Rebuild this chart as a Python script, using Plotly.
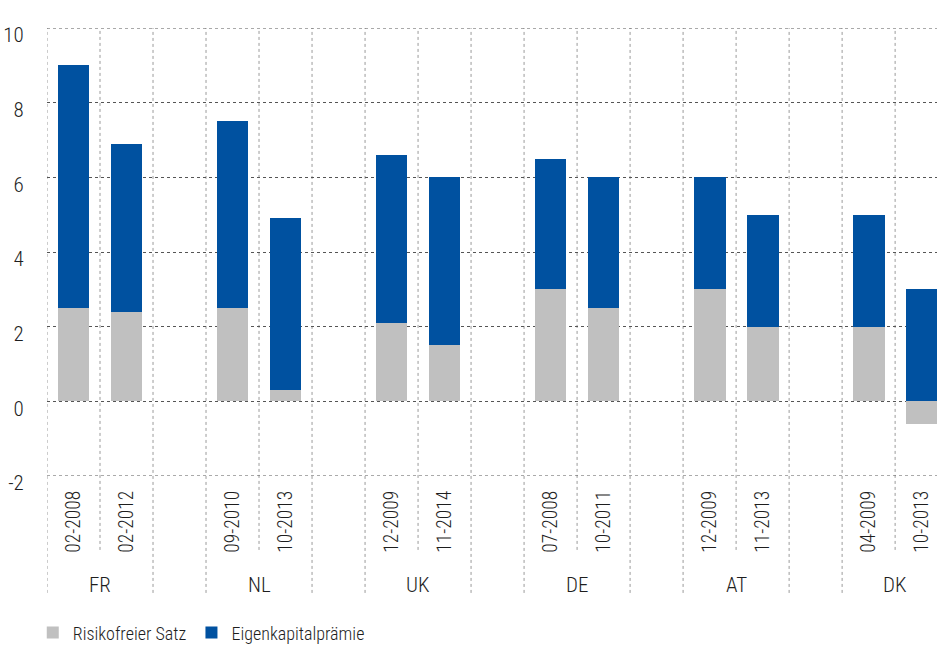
import plotly.graph_objects as go

# Data
countries = ["FR", "NL", "UK", "DE", "AT", "DK"]
dates = [
    ["02-2008", "02-2012"],
    ["09-2010", "10-2013"],
    ["12-2009", "11-2014"],
    ["07-2008", "10-2011"],
    ["12-2009", "11-2013"],
    ["04-2009", "10-2013"],
]
risk_free = [2.5, 2.4, 2.5, 0.3, 2.1, 1.5, 3.0, 2.5, 3.0, 2.0, 2.0, -0.6]
equity_premium = [6.5, 4.5, 5.0, 4.6, 4.5, 4.5, 3.5, 3.5, 3.0, 3.0, 3.0, 3.0]
y_ticks = [-2, 0, 2, 4, 6, 8, 10]
y_tick_text = ["-2", "0", "2", "4", "6", "8", "10"]

FONT = "Roboto Condensed, Fira Sans Condensed, DejaVu Sans Condensed, sans-serif"
GREY = "#c0c0c0"
BLUE = "#0051a0"
TEXT = "#1e1e1e"
GRID = "#555555"

# Each country takes two slots, followed by one empty slot as a spacer
x_pos, x_text = [], []
for g, pair in enumerate(dates):
    for k, d in enumerate(pair):
        x_pos.append(g * 3 + k)
        x_text.append(d)

fig = go.Figure()
fig.add_trace(go.Bar(x=x_pos, y=risk_free, name="Risikofreier Satz",
                     marker=dict(color=GREY, line=dict(width=0)), width=0.6))
fig.add_trace(go.Bar(x=x_pos, y=equity_premium, name="Eigenkapitalprämie",
                     marker=dict(color=BLUE, line=dict(width=0)), width=0.6))

# Vertical separators: long ones around groups, short ones between bars
shapes = []
for g in range(len(countries)):
    start = g * 3 - 0.5
    mid = g * 3 + 0.5
    end = g * 3 + 1.5
    for xv, ybot in ((start, -0.261), (mid, -0.165), (end, -0.261)):
        shapes.append(dict(type="line", xref="x", yref="paper", x0=xv, x1=xv,
                           y0=ybot, y1=1, layer="below",
                           line=dict(color="#9a9a9a", width=1, dash="dot")))
# Grid lines on the upper and lower edge of the value range
for yv in (y_ticks[0], y_ticks[-1]):
    shapes.append(dict(type="line", xref="paper", yref="y", x0=0, x1=1, y0=yv, y1=yv,
                       layer="below", line=dict(color=GRID, width=1, dash="dot")))

annotations = []
for g, c in enumerate(countries):
    annotations.append(dict(text=c, x=g * 3 + 0.5, xref="x", y=-0.243, yref="paper",
                            showarrow=False, xanchor="center", yanchor="middle",
                            font=dict(family=FONT, size=21, color=TEXT, weight=300)))

fig.update_layout(
    width=937, height=645,
    margin=dict(l=47, r=0, t=28, b=169, autoexpand=False),
    paper_bgcolor="white", plot_bgcolor="white",
    barmode="relative",
    bargap=0,
    shapes=shapes,
    annotations=annotations,
    font=dict(family=FONT, color=TEXT, weight=300),
    showlegend=True,
    legend=dict(orientation="h", x=-0.016, xanchor="left", y=-0.35, yanchor="middle",
                font=dict(family=FONT, size=18, color=TEXT, weight=300),
                traceorder="normal", itemwidth=30),
    xaxis=dict(range=[-0.5, 16.29], tickmode="array", tickvals=x_pos, ticktext=x_text,
               tickangle=-90, ticks="outside", ticklen=6, tickcolor="rgba(0,0,0,0)",
               showgrid=False, zeroline=False, showline=False, automargin=False,
               tickfont=dict(family=FONT, size=19.5, color=TEXT, weight=300), fixedrange=True),
    yaxis=dict(range=[-2, 10], tickmode="array", tickvals=y_ticks, ticktext=y_tick_text,
               showgrid=True, gridcolor=GRID, griddash="dot", gridwidth=1,
               zeroline=False, showline=False, automargin=False,
               ticks="outside", ticklen=18, tickcolor="rgba(0,0,0,0)",
               ticklabelshift=7,
               tickfont=dict(family=FONT, size=21, color=TEXT, weight=300), fixedrange=True),
    hovermode=False,
)

fig.write_html("out.html", config={"displayModeBar": False})
